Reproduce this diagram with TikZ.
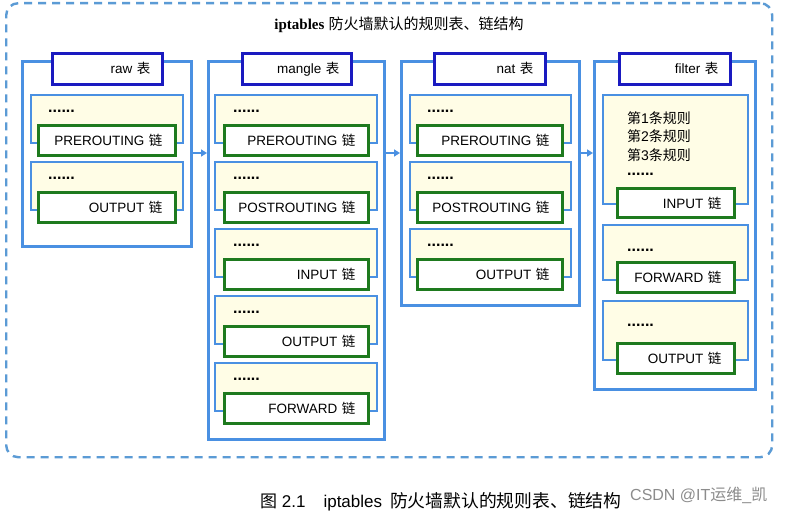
\documentclass[tikz,border=0pt]{standalone}
\usepackage{fontspec}
\setmainfont{Liberation Sans}
\newfontfamily\cjk{Noto Sans CJK SC}
\newfontfamily\titlefont{Liberation Serif}
\usetikzlibrary{arrows.meta}
\definecolor{tblue}{HTML}{4A90E2}
\definecolor{dblue}{HTML}{1A1AC0}
\definecolor{cgreen}{HTML}{1E7A1E}
\definecolor{syellow}{HTML}{FFFDE6}
\definecolor{dashblue}{HTML}{5B9BD5}
\begin{document}
\begin{tikzpicture}[x=1pt,y=-1pt,
  outerbox/.style={draw=dashblue,line width=2.4pt,dash pattern=on 8pt off 6pt,rounded corners=12pt},
  tablebox/.style={draw=tblue,line width=2.6pt,fill=white,anchor=north west,inner sep=0pt},
  labelbox/.style={draw=dblue,line width=2.6pt,fill=white,anchor=north west,inner sep=0pt,minimum height=31pt,align=right,font=\fontsize{13.5}{16}\selectfont},
  subbox/.style={draw=tblue,line width=2.2pt,fill=syellow,anchor=north west,inner sep=0pt},
  chainbox/.style={draw=cgreen,line width=2.6pt,fill=white,anchor=north west,inner sep=0pt,minimum height=30pt,align=right,font=\fontsize{13.5}{16}\selectfont},
  dotstext/.style={anchor=west,inner sep=0pt,font=\fontsize{16}{18}\selectfont\bfseries},
  rules/.style={anchor=north west,inner sep=0pt,align=left,font=\fontsize{14}{18.8}\selectfont},
  arr/.style={draw=tblue,line width=2pt,-{Triangle[length=6pt,width=7pt]}}
]
\useasboundingbox (0,0) rectangle (786,513);
\fill[white] (0,0) rectangle (786,513);

% outer dashed frame
\node[outerbox,anchor=north west,minimum width=766pt,minimum height=454pt,inner sep=0pt] (frame) at (5,2) {};
\node[font=\fontsize{15}{18}\selectfont] (title) at (399,25) {{\titlefont\bfseries iptables} {\cjk 防火墙默认的规则表、链结构}};

% ---------- raw ----------
\node[tablebox,minimum width=169pt,minimum height=185pt] (rawT) at (21,60) {};
\node[labelbox,minimum width=110pt,text width=86pt] (rawL) at (51,52) {raw {\cjk 表}};
\node[subbox,minimum width=152pt,minimum height=48pt] (rawS1) at (30,94) {};
\node[dotstext] (rawD1) at (48,111) {......};
\node[chainbox,minimum width=137pt,text width=111pt] (rawC1) at (37,124) {PREROUTING {\cjk 链}};
\node[subbox,minimum width=152pt,minimum height=48pt] (rawS2) at (30,161) {};
\node[dotstext] (rawD2) at (48,178) {......};
\node[chainbox,minimum width=137pt,text width=111pt] (rawC2) at (37,191) {OUTPUT {\cjk 链}};

% ---------- mangle ----------
\node[tablebox,minimum width=176pt,minimum height=378pt] (mangleT) at (207,60) {};
\node[labelbox,minimum width=109pt,text width=85pt] (mangleL) at (241,52) {mangle {\cjk 表}};
\foreach \k/\lab in {0/PREROUTING,1/POSTROUTING,2/INPUT,3/OUTPUT,4/FORWARD}{
  \pgfmathsetmacro{\t}{94+67*\k}
  \node[subbox,minimum width=162pt,minimum height=48pt] (mangleS\k) at (214,\t) {};
  \node[dotstext] (mangleD\k) at (233,\t+17) {......};
  \node[chainbox,minimum width=144pt,text width=118pt] (mangleC\k) at (223,\t+30) {\lab\ {\cjk 链}};
}

% ---------- nat ----------
\node[tablebox,minimum width=178pt,minimum height=244pt] (natT) at (400,60) {};
\node[labelbox,minimum width=111pt,text width=87pt] (natL) at (433,52) {nat {\cjk 表}};
\foreach \k/\lab in {0/PREROUTING,1/POSTROUTING,2/OUTPUT}{
  \pgfmathsetmacro{\t}{94+67*\k}
  \node[subbox,minimum width=161pt,minimum height=48pt] (natS\k) at (409,\t) {};
  \node[dotstext] (natD\k) at (427,\t+17) {......};
  \node[chainbox,minimum width=145pt,text width=119pt] (natC\k) at (416,\t+30) {\lab\ {\cjk 链}};
}

% ---------- filter ----------
\node[tablebox,minimum width=161pt,minimum height=328pt] (filterT) at (593,60) {};
\node[labelbox,minimum width=111pt,text width=87pt] (filterL) at (618,52) {filter {\cjk 表}};
\node[subbox,minimum width=145pt,minimum height=109pt] (filterS1) at (602,94) {};
\node[rules] (filterR) at (627,111) {{\cjk 第}1{\cjk 条规则}\\{\cjk 第}2{\cjk 条规则}\\{\cjk 第}3{\cjk 条规则}};
\node[dotstext] (filterD1) at (627,174) {......};
\node[chainbox,minimum width=117pt,minimum height=29pt,text width=91pt] (filterC1) at (616,187) {INPUT {\cjk 链}};
\node[subbox,minimum width=145pt,minimum height=55pt] (filterS2) at (602,224) {};
\node[dotstext] (filterD2) at (627,250) {......};
\node[chainbox,minimum width=117pt,text width=91pt] (filterC2) at (616,261) {FORWARD {\cjk 链}};
\node[subbox,minimum width=145pt,minimum height=59pt] (filterS3) at (602,300) {};
\node[dotstext] (filterD3) at (627,325) {......};
\node[chainbox,minimum width=117pt,text width=91pt] (filterC3) at (616,342) {OUTPUT {\cjk 链}};

% arrows between tables
\draw[arr] (rawT.east |- 0,153) -- (mangleT.west |- 0,153);
\draw[arr] (mangleT.east |- 0,153) -- (natT.west |- 0,153);
\draw[arr] (natT.east |- 0,153) -- (filterT.west |- 0,153);

% caption
\node[anchor=west,inner sep=0pt,font=\fontsize{17}{20}\selectfont] (caption) at (260,502) {{\cjk 图}\ 2.1\hspace{18pt}iptables\hspace{8pt}{\fontsize{17.8}{20}\cjk 防火墙默认的规则表、链结构}};
\node[anchor=west,inner sep=0pt,text=black!45,font=\fontsize{16}{18}\selectfont] (mark) at (630,495) {CSDN @IT{\cjk 运维}\_{\cjk 凯}};
\end{tikzpicture}
\end{document}
